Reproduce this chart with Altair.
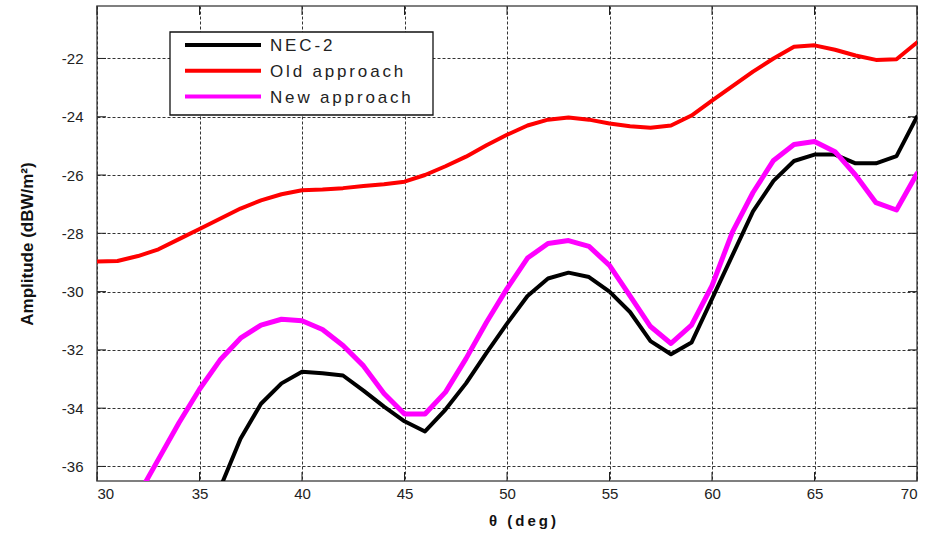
import altair as alt
import pandas as pd

# ---------------- data ----------------
series_names = ["NEC-2", "Old approach", "New approach"]
series_colors = ["#000000", "#ff0000", "#ff00ff"]
series_widths = [4, 4, 5]

theta_old = list(range(30, 71))
old_vals = [-28.97, -28.95, -28.78, -28.55, -28.2, -27.85, -27.5, -27.15, -26.87, -26.66,
            -26.52, -26.5, -26.45, -26.38, -26.32, -26.23, -26.0, -25.7, -25.37, -24.98,
            -24.62, -24.3, -24.1, -24.03, -24.1, -24.23, -24.33, -24.38, -24.3, -23.96,
            -23.45, -22.95, -22.45, -22.0, -21.6, -21.55, -21.7, -21.9, -22.05, -22.03,
            -21.45]

theta_nec = list(range(36, 71))
nec_vals = [-36.75, -35.05, -33.85, -33.15, -32.75, -32.8, -32.88, -33.4, -33.95, -34.45,
            -34.8, -34.05, -33.15, -32.1, -31.1, -30.15, -29.55, -29.35, -29.5, -30.0,
            -30.7, -31.7, -32.15, -31.75, -30.25, -28.75, -27.25, -26.2, -25.52, -25.3,
            -25.3, -25.6, -25.6, -25.35, -24.0]

theta_new = list(range(32, 71))
new_vals = [-37.0, -35.75, -34.5, -33.35, -32.35, -31.6, -31.15, -30.95, -31.0, -31.3,
            -31.85, -32.55, -33.5, -34.2, -34.2, -33.45, -32.3, -31.05, -29.9, -28.85,
            -28.35, -28.25, -28.45, -29.1, -30.15, -31.2, -31.78, -31.15, -29.8, -27.95,
            -26.6, -25.5, -24.95, -24.85, -25.2, -26.0, -26.95, -27.2, -25.95]

x_ticks = [30, 35, 40, 45, 50, 55, 60, 65, 70]
y_ticks = [-22, -24, -26, -28, -30, -32, -34, -36]
x_domain = [30, 70]
y_domain = [-36.5, -20.2]

x_title = "θ (deg)"
y_title = "Amplitude (dBW/m²)"

# ---------------- layout ----------------
W, H = 820, 475
FONT = "Liberation Sans, Arial, sans-serif"
SP = "\u2009"
SP6 = "\u2006"

def spaced(s, sep=SP):
    return sep.join(list(s))

label_expr = "(datum.value < 0 ? '-' : '') + abs(datum.value)"

xs = alt.Scale(domain=x_domain, nice=False, zero=False)
ys = alt.Scale(domain=y_domain, nice=False, zero=False)

frames = {
    "NEC-2": pd.DataFrame({"theta": theta_nec, "amp": nec_vals}),
    "Old approach": pd.DataFrame({"theta": theta_old, "amp": old_vals}),
    "New approach": pd.DataFrame({"theta": theta_new, "amp": new_vals}),
}

x_axis = alt.Axis(values=x_ticks, title=spaced(x_title), grid=True, gridDash=[3, 2],
                  gridColor="#333333", gridWidth=1, gridOpacity=1, ticks=False, domain=False,
                  labelExpr=label_expr, labelFont=FONT, labelFontSize=15, labelColor="#222222",
                  labelPadding=5, titleFont=FONT, titleFontSize=15, titleFontWeight="bold",
                  titleColor="#111111", titleX=425, titleY=44, titleBaseline="alphabetic",
                  titleAlign="center")
y_axis = alt.Axis(values=y_ticks, title=y_title, grid=True, gridDash=[3, 2],
                  gridColor="#333333", gridWidth=1, gridOpacity=1, ticks=False, domain=False,
                  labelExpr=label_expr, labelFont=FONT, labelFontSize=15, labelColor="#222222",
                  labelPadding=14, titleFont=FONT, titleFontSize=17, titleFontWeight="bold",
                  titleColor="#111111", titleX=-70, titleY=H / 2, titleBaseline="middle",
                  titleAlign="center", titleAngle=270)

layers = []

# gridline/axis carrier layer
grid_df = pd.DataFrame({"theta": [x_domain[0]], "amp": [y_domain[0]]})
layers.append(
    alt.Chart(grid_df).mark_point(opacity=0).encode(
        x=alt.X("theta:Q", scale=xs, axis=x_axis),
        y=alt.Y("amp:Q", scale=ys, axis=y_axis),
    )
)

# inside ticks
xt = pd.DataFrame({"theta": x_ticks})
yt = pd.DataFrame({"amp": y_ticks})
for y0, y1 in [(H - 9, H), (0, 9)]:
    layers.append(alt.Chart(xt).mark_rule(color="#222222", strokeWidth=1).encode(
        x=alt.X("theta:Q", scale=xs, axis=x_axis), y=alt.value(y0), y2=alt.value(y1)))
for x0, x1 in [(0, 9), (W - 9, W)]:
    layers.append(alt.Chart(yt).mark_rule(color="#222222", strokeWidth=1).encode(
        y=alt.Y("amp:Q", scale=ys, axis=y_axis), x=alt.value(x0), x2=alt.value(x1)))

# series lines (black, red, magenta order)
for name, color, width in zip(series_names, series_colors, series_widths):
    layers.append(
        alt.Chart(frames[name]).mark_line(color=color, strokeWidth=width, clip=True,
                                          strokeJoin="round", strokeCap="round").encode(
            x=alt.X("theta:Q", scale=xs, axis=x_axis),
            y=alt.Y("amp:Q", scale=ys, axis=y_axis),
        )
    )

# custom legend
one = pd.DataFrame({"k": [0]})
layers.append(alt.Chart(one).mark_rect(fill="white", stroke="#111111", strokeWidth=1.3).encode(
    x=alt.value(73), x2=alt.value(336), y=alt.value(26), y2=alt.value(109)))
for i, (name, color) in enumerate(zip(series_names, series_colors)):
    yy = 39 + i * 25.8
    layers.append(alt.Chart(one).mark_rule(color=color, strokeWidth=4).encode(
        x=alt.value(88), x2=alt.value(164), y=alt.value(yy)))
    layers.append(alt.Chart(one).mark_text(text=spaced(name, SP6), align="left", baseline="middle",
                                           font=FONT, fontSize=17, color="#222222").encode(
        x=alt.value(173), y=alt.value(yy + 1)))

chart = alt.layer(*layers).properties(
    width=W, height=H,
    autosize=alt.AutoSizeParams(type="none"),
    padding={"left": 97, "top": 6, "right": 13, "bottom": 53},
    background="white",
).configure_view(stroke="#555555", strokeWidth=1.5)

chart.save("out.html", embed_options={"renderer": "svg", "actions": False})
